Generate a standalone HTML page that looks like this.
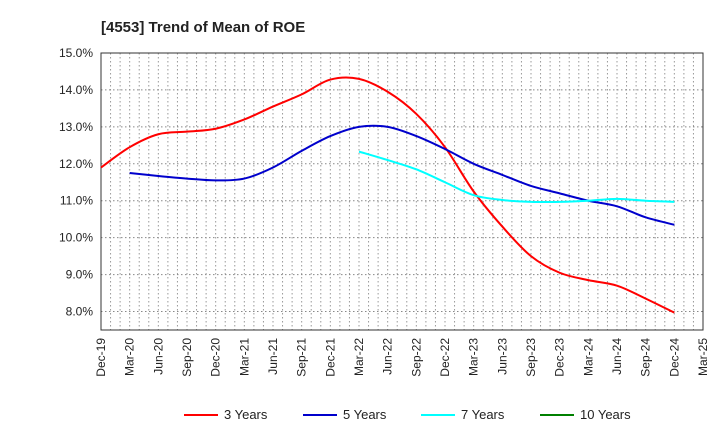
<!DOCTYPE html>
<html><head><meta charset="utf-8"><style>
body{margin:0;background:#fff;font-family:"Liberation Sans",sans-serif}
</style></head><body>
<svg id="c" width="720" height="440" xmlns="http://www.w3.org/2000/svg" font-family="Liberation Sans, sans-serif"></svg>
<script>
const xLabels=["Dec-19","Mar-20","Jun-20","Sep-20","Dec-20","Mar-21","Jun-21","Sep-21","Dec-21","Mar-22","Jun-22","Sep-22","Dec-22","Mar-23","Jun-23","Sep-23","Dec-23","Mar-24","Jun-24","Sep-24","Dec-24","Mar-25"];
const yTicks=[8,9,10,11,12,13,14,15];
const s3=[11.9,12.45,12.8,12.87,12.95,13.2,13.55,13.88,14.28,14.3,13.95,13.35,12.45,11.25,10.3,9.5,9.05,8.85,8.7,8.35,7.97];
const s5=[null,11.75,11.67,11.6,11.55,11.6,11.9,12.35,12.75,13.0,13.0,12.75,12.4,12.0,11.7,11.4,11.2,11.0,10.85,10.55,10.35];
const s7=[null,null,null,null,null,null,null,null,null,12.33,12.1,11.85,11.5,11.15,11.02,10.97,10.97,11.0,11.05,11.0,10.97];
const s10=[];
const L=101,R=703,T=53,B=330,yMin=7.5,yMax=15;
const X=i=>L+(R-L)*i/(xLabels.length-1);
const Y=v=>B-(v-yMin)/(yMax-yMin)*(B-T);
const svg=document.getElementById('c');const NS='http://www.w3.org/2000/svg';
function mk(t,a,p){const e=document.createElementNS(NS,t);for(const k in a)e.setAttribute(k,a[k]);(p||svg).appendChild(e);return e;}
let e=mk('text',{x:101,y:32,'font-size':15,'font-weight':'bold',fill:'#222'});e.textContent='[4553]  Trend of Mean of ROE';


for(let m=1;m<(xLabels.length-1)*3;m++){const x=L+(R-L)*m/((xLabels.length-1)*3);
e=mk('line',{x1:x,x2:x,y1:T,y2:B,stroke:'#999','stroke-dasharray':'1.5,2.5','stroke-width':1});

}
yTicks.forEach(v=>{const y=Y(v);
e=mk('line',{x1:L,x2:R,y1:y,y2:y,stroke:'#888','stroke-dasharray':'1.5,2.5'});


e=mk('text',{x:L-8,y:y+4,'text-anchor':'end','font-size':12,fill:'#222'});e.textContent=v.toFixed(1)+'%';

});
xLabels.forEach((l,i)=>{const x=X(i);
e=mk('text',{transform:`translate(${x+4},${B+8}) rotate(-90)`,'text-anchor':'end','font-size':12,fill:'#222'});e.textContent=l;

});
e=mk('rect',{x:L,y:T,width:R-L,height:B-T,fill:'none',stroke:'#333'});


function path(arr){const p=[];arr.forEach((v,i)=>{if(v!=null)p.push([X(i),Y(v)]);});if(p.length<2)return '';
let d=`M${p[0][0]},${p[0][1]}`;for(let i=0;i<p.length-1;i++){const p0=p[Math.max(0,i-1)],p1=p[i],p2=p[i+1],p3=p[Math.min(p.length-1,i+2)];
d+=`C${p1[0]+(p2[0]-p0[0])/6},${p1[1]+(p2[1]-p0[1])/6} ${p2[0]-(p3[0]-p1[0])/6},${p2[1]-(p3[1]-p1[1])/6} ${p2[0]},${p2[1]}`;}return d;}
const series=[[s3,'#ff0000','3 Years'],[s5,'#0000cc','5 Years'],[s7,'#00ffff','7 Years'],[s10,'#008000','10 Years']];
series.forEach(([a,c,n])=>{const d=path(a);if(d){e=mk('path',{d:d,fill:'none',stroke:c,'stroke-width':2});

}});
const lx=[184,303,421,540];
series.forEach(([a,c,n],i)=>{const g=mk('g',{});


mk('line',{x1:lx[i],x2:lx[i]+34,y1:415,y2:415,stroke:c,'stroke-width':2},g);
const t=mk('text',{x:lx[i]+40,y:419,'font-size':13,fill:'#222'},g);t.textContent=n;});
</script>
</body></html>
